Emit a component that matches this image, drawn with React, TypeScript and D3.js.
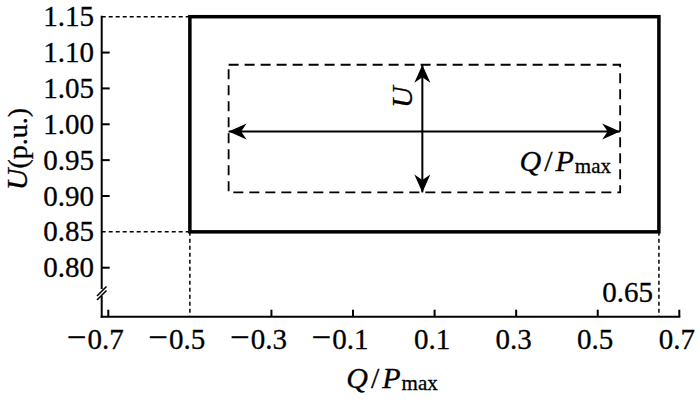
import React from "react";
import * as d3 from "d3";

// ---- data ----
const xTickValues = [-0.7, -0.5, -0.3, -0.1, 0.1, 0.3, 0.5, 0.7];
const yTickValues = [0.8, 0.85, 0.9, 0.95, 1.0, 1.05, 1.1, 1.15];
const outerQ = [-0.5, 0.65];
const outerU = [0.85, 1.15];
const innerQ = [-0.405, 0.555];
const innerU = [0.905, 1.083];
const crossQ = [0.07];
const crossU = [0.99];
const annotQ = [0.65];

const W = 700;
const H = 403;
const FONT = "'Liberation Serif', 'Times New Roman', serif";
const TXT = { fill: "#000", stroke: "#000", strokeWidth: 0.3 };

export default function App() {
  const x = d3.scaleLinear().domain([-0.7, 0.7]).range([108.3, 679.3]);
  const y = d3.scaleLinear().domain([0.8, 1.15]).range([267.7, 16.7]);
  const axisY = 316.7;
  const axisX = 101.7;
  const fmtY = d3.format(".2f");
  const fmtX = (v: number) => d3.format(".1f")(Math.abs(v));

  const ox0 = x(outerQ[0]), ox1 = x(outerQ[1]);
  const oy0 = y(outerU[1]), oy1 = y(outerU[0]);
  const ix0 = x(innerQ[0]), ix1 = x(innerQ[1]);
  const iy0 = y(innerU[1]), iy1 = y(innerU[0]);
  const cx = x(crossQ[0]);
  const cy = y(crossU[0]);

  return (
    <svg
      width={W}
      height={H}
      style={{ position: "absolute", left: 0, top: 0, background: "#fff" }}
      fontFamily={FONT}
    >
      <defs>
        <marker
          id="ah"
          markerUnits="userSpaceOnUse"
          viewBox="-20 -10 22 20"
          refX={0}
          refY={0}
          markerWidth={22}
          markerHeight={20}
          orient="auto-start-reverse"
        >
          <path d="M0,0 L-18,-8 L-12.5,0 L-18,8 Z" fill="#000" />
        </marker>
      </defs>

      {/* y axis with break */}
      <line x1={axisX} y1={oy0 - 1} x2={axisX} y2={289} stroke="#000" strokeWidth={2} />
      <line x1={axisX} y1={296} x2={axisX} y2={axisY + 1} stroke="#000" strokeWidth={2} />
      <line x1={97} y1={296} x2={106.5} y2={286.5} stroke="#000" strokeWidth={1.6} />
      <line x1={97} y1={300} x2={106.5} y2={290.5} stroke="#000" strokeWidth={1.6} />

      {/* x axis */}
      <line x1={axisX - 1} y1={axisY} x2={x(0.7) + 1} y2={axisY} stroke="#000" strokeWidth={2} />

      {/* y ticks */}
      {yTickValues.map((v) => (
        <g key={"yt" + v}>
          {!outerU.some((u) => Math.abs(u - v) < 1e-9) && (
            <line x1={axisX} x2={axisX + 8} y1={y(v)} y2={y(v)} stroke="#000" strokeWidth={2} />
          )}
          <text x={94} y={y(v) + 9.6} textAnchor="end" fontSize={29} {...TXT}>
            {fmtY(v)}
          </text>
        </g>
      ))}

      {/* x ticks */}
      {xTickValues.map((v) => {
        const px = x(v);
        const cxl = px - 2.5;
        const half = 18;
        return (
          <g key={"xt" + v}>
            {!outerQ.some((q) => Math.abs(q - v) < 1e-9) && (
              <line x1={px} x2={px} y1={axisY} y2={axisY - 7} stroke="#000" strokeWidth={2} />
            )}
            {v < 0 ? (
              <text x={cxl + half} y={349.3} textAnchor="end" fontSize={29} {...TXT}>
                <tspan fontSize={35}>−</tspan>
                <tspan fontSize={29} dx={1}>{fmtX(v)}</tspan>
              </text>
            ) : (
              <text x={cxl} y={349.3} textAnchor="middle" fontSize={29} {...TXT}>
                {fmtX(v)}
              </text>
            )}
          </g>
        );
      })}

      {/* dotted guide lines */}
      <g stroke="#000" strokeWidth={1.5} strokeDasharray="4,3" fill="none">
        <line x1={axisX} x2={ox0} y1={oy0} y2={oy0} />
        <line x1={axisX} x2={ox0} y1={oy1} y2={oy1} />
        <line x1={ox0} x2={ox0} y1={oy1} y2={axisY} />
        <line x1={ox1} x2={ox1} y1={oy1} y2={axisY} />
      </g>

      {/* outer solid rectangle */}
      <rect
        x={ox0}
        y={oy0}
        width={ox1 - ox0}
        height={oy1 - oy0}
        fill="none"
        stroke="#000"
        strokeWidth={3.5}
      />

      {/* inner dashed rectangle */}
      <rect
        x={ix0}
        y={iy0}
        width={ix1 - ix0}
        height={iy1 - iy0}
        fill="none"
        stroke="#000"
        strokeWidth={1.8}
        strokeDasharray="10,6"
      />

      {/* arrows */}
      <line
        x1={ix0}
        y1={cy}
        x2={ix1}
        y2={cy}
        stroke="#000"
        strokeWidth={2}
        markerStart="url(#ah)"
        markerEnd="url(#ah)"
      />
      <line
        x1={cx}
        y1={iy0}
        x2={cx}
        y2={iy1}
        stroke="#000"
        strokeWidth={2}
        markerStart="url(#ah)"
        markerEnd="url(#ah)"
      />

      {/* inner labels */}
      <text
        transform={`translate(${cx - 10},${(iy0 + cy) / 2 - 1}) rotate(-90)`}
        textAnchor="middle"
        fontSize={30}
        fontStyle="italic"
        {...TXT}
      >
        U
      </text>
      <text x={611} y={170.7} textAnchor="end" fontSize={30} {...TXT}>
        <tspan fontStyle="italic">Q</tspan>
        <tspan dx={3}>/</tspan>
        <tspan dx={3} fontStyle="italic">P</tspan>
        <tspan fontSize={21} dy={2} dx={1}>max</tspan>
      </text>

      {/* 0.65 annotation */}
      <text x={x(annotQ[0]) - 6} y={302} textAnchor="end" fontSize={29} {...TXT}>
        {annotQ[0].toFixed(2)}
      </text>

      {/* axis titles */}
      <text x={392} y={388.3} textAnchor="middle" fontSize={30} {...TXT}>
        <tspan fontStyle="italic">Q</tspan>
        <tspan dx={3}>/</tspan>
        <tspan dx={3} fontStyle="italic">P</tspan>
        <tspan fontSize={21} dy={2} dx={1}>max</tspan>
      </text>
      <text
        transform={`translate(27,149) rotate(-90)`}
        textAnchor="middle"
        fontSize={28}
        {...TXT}
      >
        <tspan fontStyle="italic" fontSize={30}>U</tspan>
        <tspan>(p.u.)</tspan>
      </text>
    </svg>
  );
}
